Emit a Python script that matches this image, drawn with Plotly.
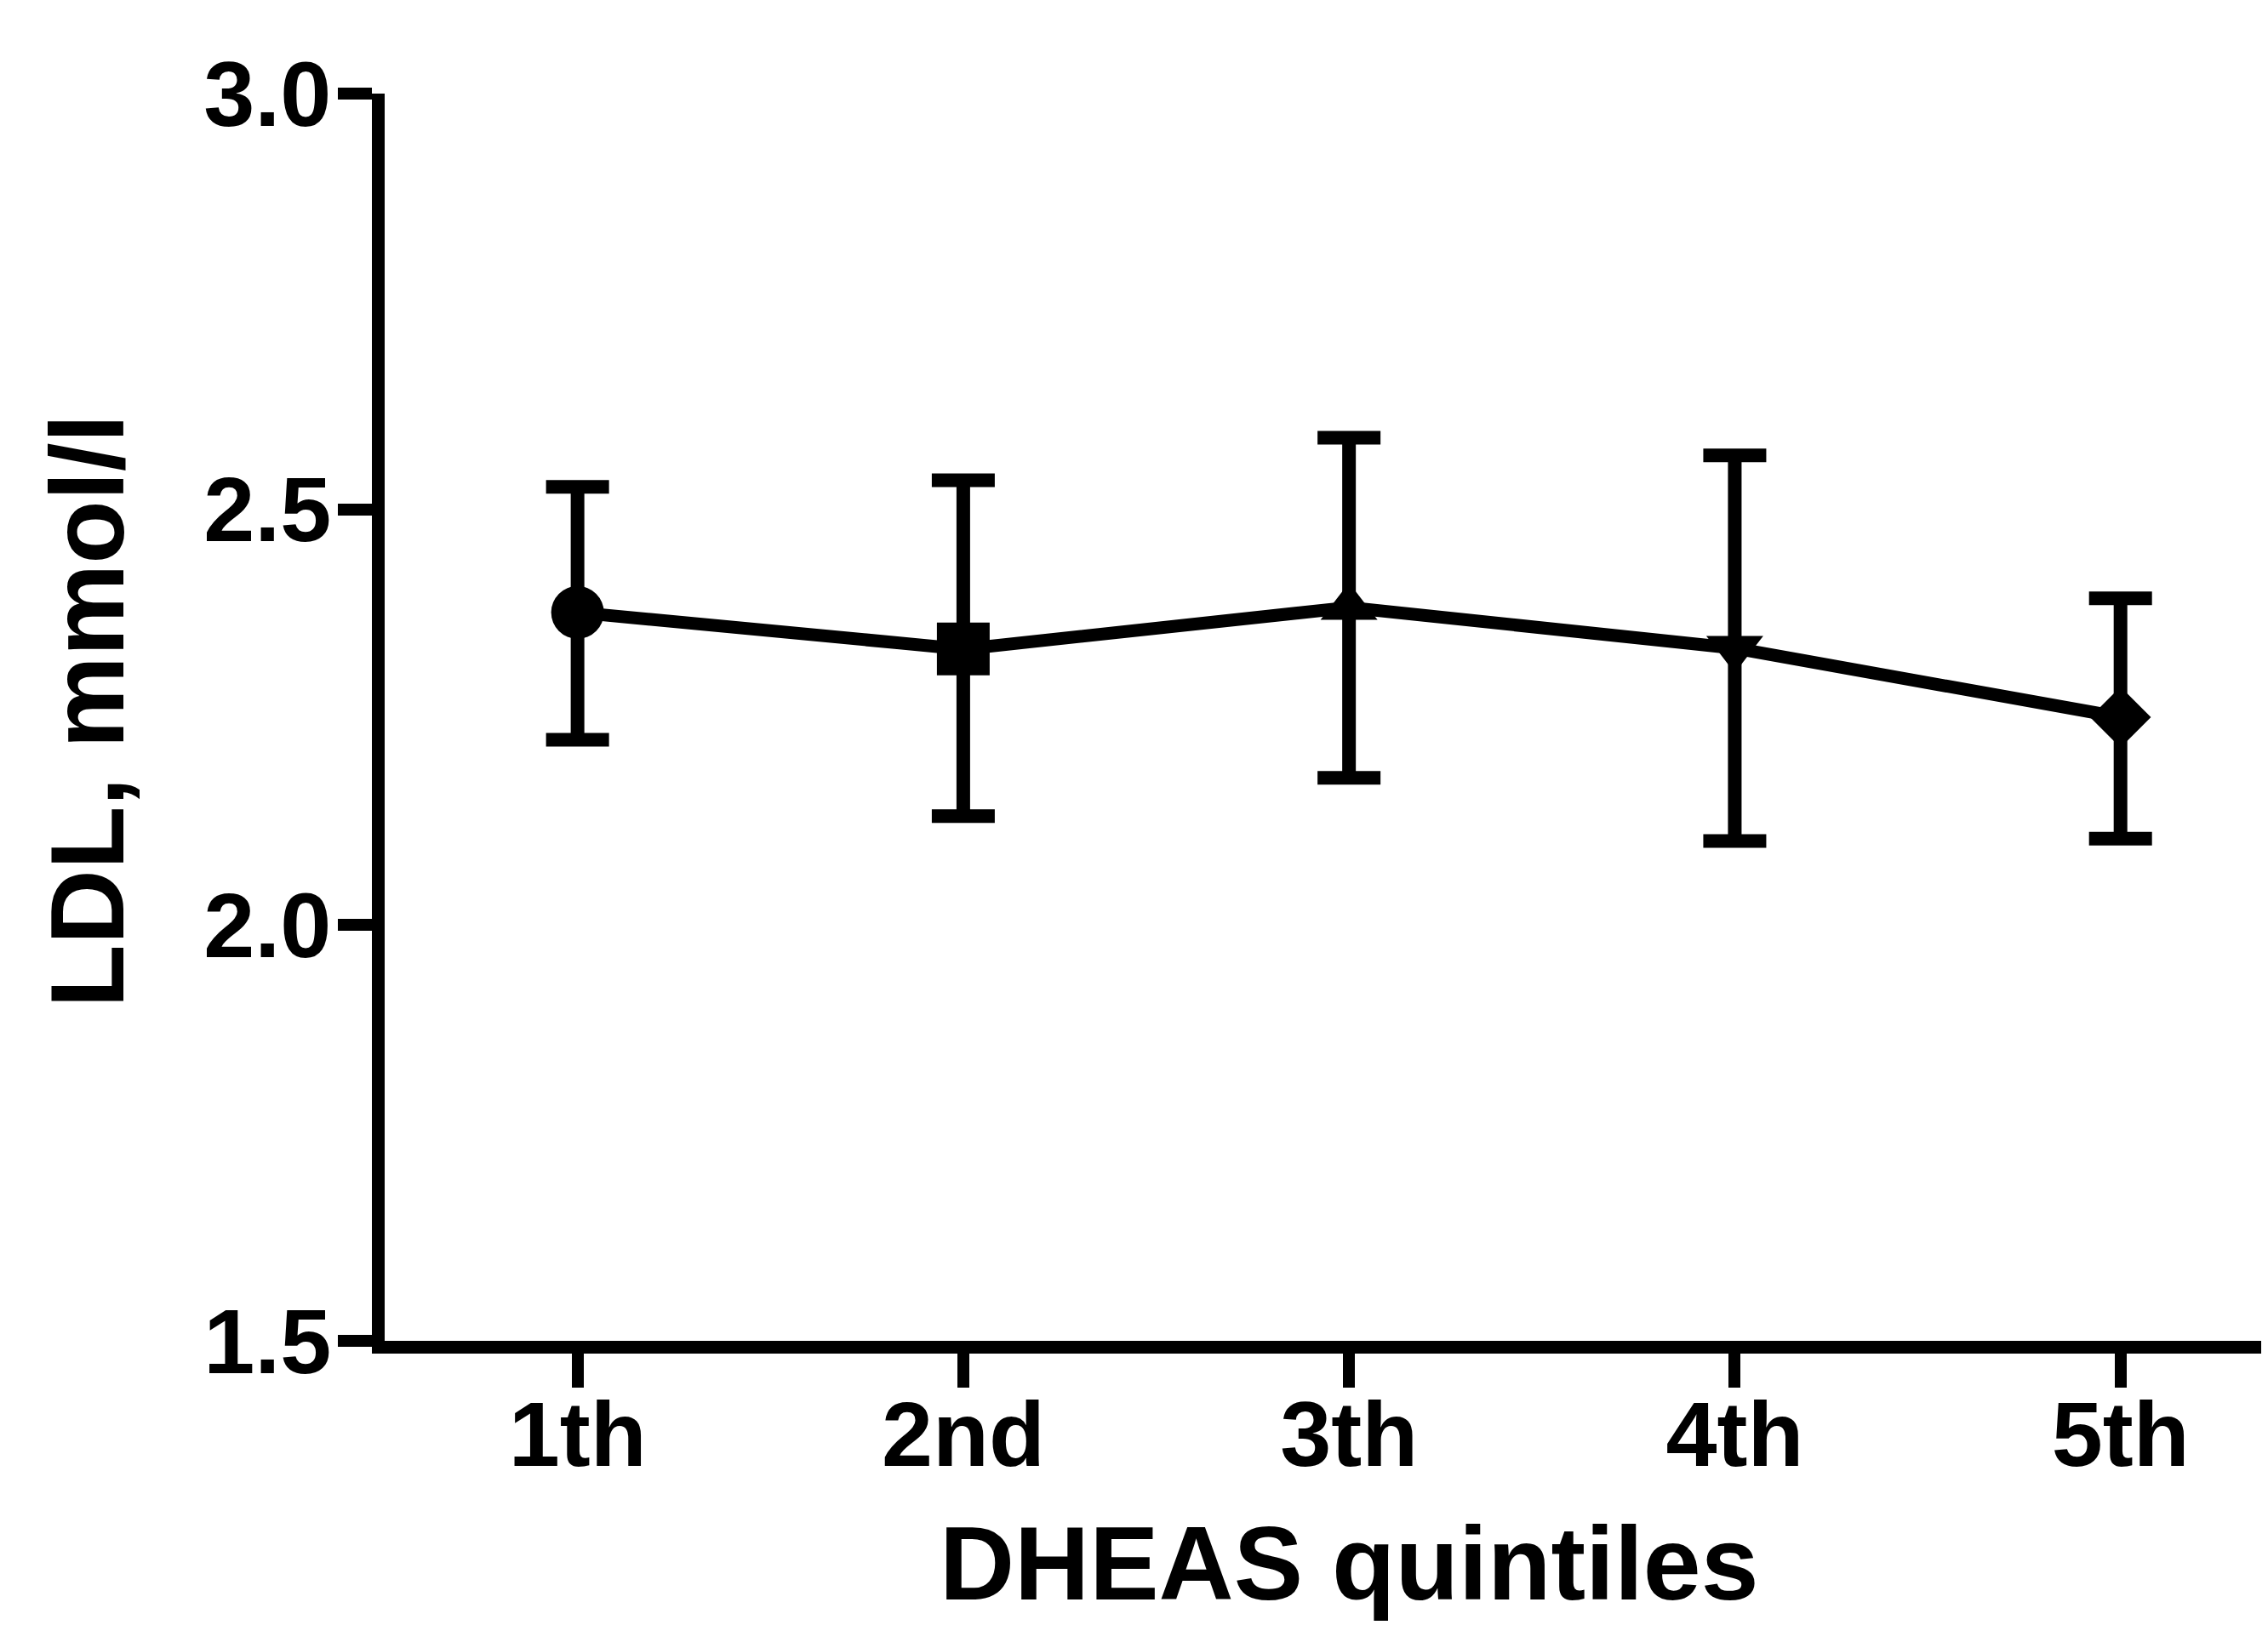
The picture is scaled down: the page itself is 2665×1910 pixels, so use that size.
import plotly.graph_objects as go

# ---- data ----
categories = ["1th", "2nd", "3th", "4th", "5th"]
means = [2.376, 2.332, 2.382, 2.333, 2.250]
upper = [2.527, 2.535, 2.586, 2.565, 2.393]
lower = [2.223, 2.131, 2.177, 2.101, 2.104]
y_ticks = [1.5, 2.0, 2.5, 3.0]
x_title = "DHEAS quintiles"
y_title = "LDL, mmol/l"

# ---- styles ----
symbols = ["circle", "square", "triangle-up", "triangle-down", "diamond"]
sizes = [62, 62, 58, 58, 55]

W, H = 2665, 1910
ML, MR, MT, MB = 444, 0, 102, 342
plot_h = H - MT - MB
plot_w = W - ML - MR

err_plus = [u - m for u, m in zip(upper, means)]
err_minus = [m - l for m, l in zip(means, lower)]

FONT = "Liberation Sans, Arial, sans-serif"

fig = go.Figure()
# connecting line with error bars
fig.add_trace(go.Scatter(
    x=categories, y=means,
    mode="lines",
    line=dict(color="black", width=15),
    error_y=dict(type="data", symmetric=False, array=err_plus, arrayminus=err_minus,
                 color="black", thickness=16, width=37),
    showlegend=False, hoverinfo="skip",
))
# one marker trace per quintile (each has its own symbol)
for cat, m, sym, sz in zip(categories, means, symbols, sizes):
    fig.add_trace(go.Scatter(
        x=[cat], y=[m], mode="markers",
        marker=dict(symbol=sym, size=sz, color="black", opacity=1, line=dict(width=0)),
        showlegend=False,
    ))

fig.update_layout(
    width=W, height=H,
    margin=dict(l=ML, r=MR, t=MT, b=MB, pad=0),
    plot_bgcolor="white", paper_bgcolor="white",
    font=dict(family=FONT, color="black"),
)

fig.update_xaxes(
    type="category", categoryorder="array", categoryarray=categories,
    range=[-0.5, 4.4],
    showline=True, linecolor="black", linewidth=15,
    ticks="outside", ticklen=40, tickwidth=14, tickcolor="black",
    ticklabelstandoff=-38,
    showgrid=False, zeroline=False,
    tickfont=dict(family=FONT, size=108, weight="bold", color="black"),
)
fig.update_yaxes(
    range=[1.5, 3.0],
    tickvals=y_ticks, ticktext=[f"{v:.1f}" for v in y_ticks],
    showline=True, linecolor="black", linewidth=15,
    ticks="outside", ticklen=40, tickwidth=14, tickcolor="black",
    ticklabelstandoff=-14,
    showgrid=False, zeroline=False,
    tickfont=dict(family=FONT, size=108, weight="bold", color="black"),
)

# axis titles as annotations
fig.add_annotation(
    text=x_title, xref="x", x=2, yref="paper", y=(H - MB - 1830) / plot_h,
    xanchor="center", yanchor="middle", showarrow=False,
    font=dict(family=FONT, size=122, weight="bold", color="black"),
)
fig.add_annotation(
    text=y_title, xref="paper", x=(95 - ML) / plot_w, yref="paper", y=0.505,
    xanchor="center", yanchor="middle", textangle=-90, showarrow=False,
    font=dict(family=FONT, size=122, weight="bold", color="black"),
)

fig.write_html("out.html")
